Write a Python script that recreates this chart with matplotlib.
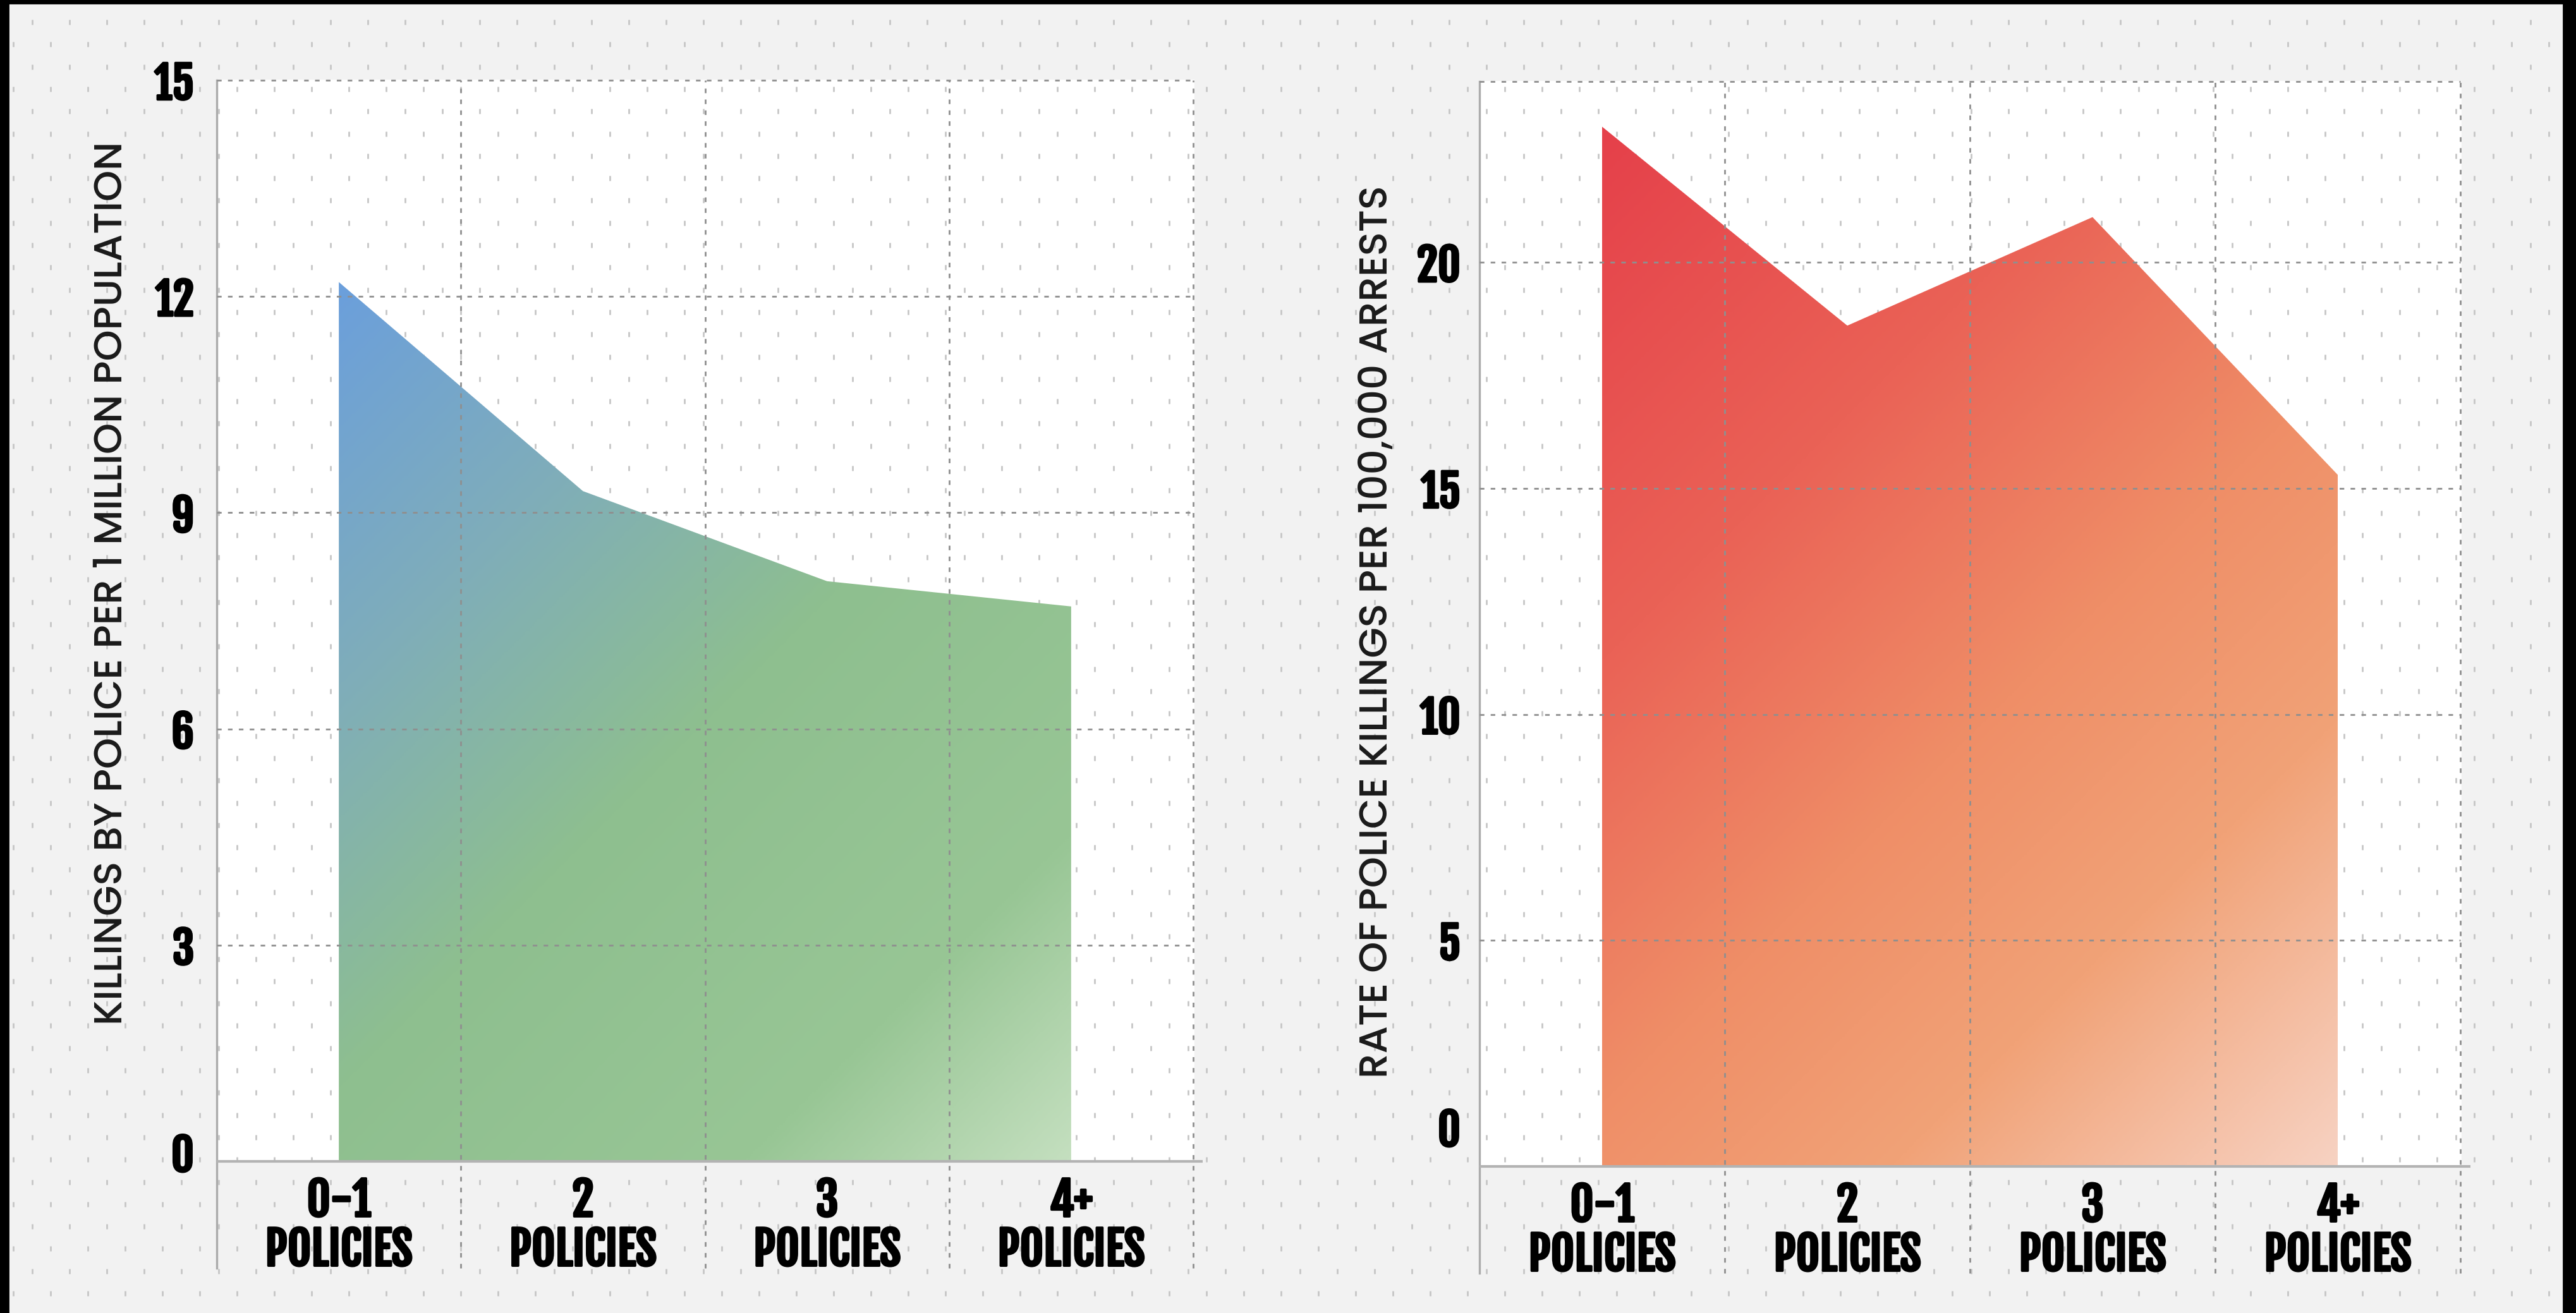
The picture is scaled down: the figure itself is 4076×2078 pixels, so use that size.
"""Police killings vs. number of use-of-force policies (two area panels)"""
import matplotlib
matplotlib.use("Agg")
import matplotlib.pyplot as plt
import matplotlib.patheffects as pe
import numpy as np
from matplotlib.colors import LinearSegmentedColormap
from matplotlib.patches import Rectangle

W, H, DPI = 4076, 2078, 200

# data
categories = ["0-1", "2", "3", "4+"]
cat_sub = "POLICIES"
pop_rate = [12.2, 9.3, 8.05, 7.7]          # killings per 1M population
arrest_rate = [23.0, 18.6, 21.0, 15.3]     # killings per 100k arrests
pop_ticks = [0, 3, 6, 9, 12, 15]
arrest_ticks = [0, 5, 10, 15, 20]
pop_label = "KILLINGS BY POLICE PER 1 MILLION POPULATION"
arrest_label = "RATE OF POLICE KILLINGS PER 100,000 ARRESTS"

# styles
COND = ["Fjalla One", "Bebas Neue", "Anton", "DejaVu Sans"]
TITLE_FONT = ["Poppins", "DejaVu Sans"]
TICK_FS = 25
CAT_FS = 26
HEAVY = [pe.withStroke(linewidth=1.3, foreground="black")]
BG = "#f2f2f2"
GRID = "#8f8f8f"
green_stops = [(0.0, "#6b9fdc"), (0.25, "#7fadba"), (0.5, "#8ebf8f"),
               (0.8, "#98c695"), (1.0, "#c4dfbf")]
red_stops = [(0.0, "#e5404a"), (0.3, "#ea6256"), (0.55, "#ef8e67"),
             (0.75, "#f1a277"), (1.0, "#f7d2c2")]

fig = plt.figure(figsize=(W / DPI, H / DPI), dpi=DPI)
fig.patch.set_facecolor(BG)

# background layer in pixel coords (y down)
bg = fig.add_axes([0, 0, 1, 1], zorder=0)
bg.set_xlim(0, W)
bg.set_ylim(H, 0)
bg.axis("off")

px = 72 / DPI  # points per pixel


def to_bg(ax, x, y):
    dx, dy = ax.transData.transform((x, y))
    return dx, H - dy


def panel(ax, values, ticks, ylim, stops, tick_pad, zero_dy):
    ax.set_facecolor("none")
    ax.set_xlim(-0.5, 3.5)
    ax.set_ylim(*ylim)
    for s in ["top", "right", "bottom"]:
        ax.spines[s].set_visible(False)
    ax.spines["left"].set_color("#ababab")
    ax.spines["left"].set_linewidth(1.2)

    # white plotting field on the background layer
    x0, y0 = to_bg(ax, -0.5, ylim[1])
    x1, y1 = to_bg(ax, 3.5, 0)
    bg.add_patch(Rectangle((x0, y0), x1 - x0, y1 - y0, color="white", zorder=1))

    # gradient area
    x = np.arange(len(values))
    vmax = max(values)
    poly = ax.fill_between(x, values, 0, facecolor="none", edgecolor="none")
    p0 = ax.transData.transform((0, 0))
    p1 = ax.transData.transform((len(values) - 1, vmax))
    w, h = p1[0] - p0[0], p1[1] - p0[1]
    u = np.linspace(0, 1, 400)[None, :]
    v = np.linspace(0, 1, 400)[:, None]   # 0 at top row
    t = (u * w + v * h) / (w + h)
    cmap = LinearSegmentedColormap.from_list("g", stops)
    im = ax.imshow(t, extent=(0, len(values) - 1, 0, vmax), origin="upper",
                   aspect="auto", cmap=cmap, vmin=0, vmax=1, zorder=1,
                   interpolation="bilinear")
    im.set_clip_path(poly.get_paths()[0], transform=ax.transData)
    ax.set_xlim(-0.5, 3.5)
    ax.set_ylim(*ylim)

    # dashed grid
    kw = dict(color=GRID, lw=1.0, dashes=(2.6, 3.6), zorder=3, clip_on=False)
    for tk in ticks[1:]:
        ax.axhline(tk, **kw)
    if ylim[1] not in ticks:
        ax.axhline(ylim[1], **kw)
    for xv in np.arange(0.5, 4, 1):
        ax.axvline(xv, **kw)
    ax.plot([-0.5, 3.54], [0, 0], color="#b3b3b3", lw=1.5, zorder=4,
            clip_on=False, solid_capstyle="butt")

    # y ticks
    ax.set_xticks([])
    ax.set_yticks(ticks)
    ax.set_yticklabels([str(tk) if tk else "" for tk in ticks])
    ax.tick_params(axis="y", length=0, pad=tick_pad * px)
    for lab in ax.get_yticklabels():
        lab.set_fontfamily(COND)
        lab.set_fontweight("bold")
        lab.set_fontsize(TICK_FS)
        lab.set_path_effects(HEAVY)
    ax.annotate("0", xy=(0, 0), xycoords=("axes fraction", "data"),
                xytext=(-tick_pad * px, zero_dy * px), textcoords="offset points",
                ha="right", va="center", fontsize=TICK_FS, fontweight="bold",
                family=COND, path_effects=HEAVY)

    # category labels
    for i, c in enumerate(categories):
        ax.annotate(c, xy=(i, 0), xytext=(0, -63 * px), textcoords="offset points",
                    ha="center", va="center", fontsize=CAT_FS, fontweight="bold",
                    family=COND, annotation_clip=False, path_effects=HEAVY)
        ax.annotate(cat_sub, xy=(i, 0), xytext=(0, -141 * px),
                    textcoords="offset points", ha="center", va="center",
                    fontsize=CAT_FS, fontweight="bold", family=COND,
                    annotation_clip=False, path_effects=HEAVY)


ax1 = fig.add_axes([343 / W, 1 - 2007 / H, (1888 - 343) / W, (2007 - 127) / H], zorder=2)
panel(ax1, pop_rate, pop_ticks, (-1.48, 15), green_stops, 36, 7)

ax2 = fig.add_axes([2341 / W, 1 - 2015 / H, (3893 - 2341) / W, (2015 - 129) / H], zorder=2)
panel(ax2, arrest_rate, arrest_ticks, (-2.36, 24.0), red_stops, 30, 55)

# dot texture
rows = np.arange(-1, 61)
xs, ys = [], []
for r in rows:
    xr = np.arange(51 - (r % 2) * 29.5 - 59, W + 59, 59)
    xs.extend(xr)
    ys.extend([35 + 35.3 * r] * len(xr))
bg.plot(xs, ys, linestyle="none", marker="|", ms=2.8, mew=1.0,
        color="#c6c6c6", zorder=2)

# frame
bg.add_patch(Rectangle((0, 0), 13, H, color="black", zorder=5))
bg.add_patch(Rectangle((0, 0), W, 5, color="black", zorder=5))
bg.add_patch(Rectangle((W - 20, 0), 20, H, color="black", zorder=5))

# axis titles
fig.text(178 / W, 1 - 923 / H, pop_label, rotation=90, ha="center", va="center",
         fontsize=22.5, family=TITLE_FONT, fontweight=500, color="#1a1a1a")
fig.text(2180 / W, 1 - 1000 / H, arrest_label, rotation=90, ha="center",
         va="center", fontsize=22.5, family=TITLE_FONT, fontweight=500, color="#1a1a1a")

fig.savefig("out.png", dpi=DPI, facecolor=fig.get_facecolor())
